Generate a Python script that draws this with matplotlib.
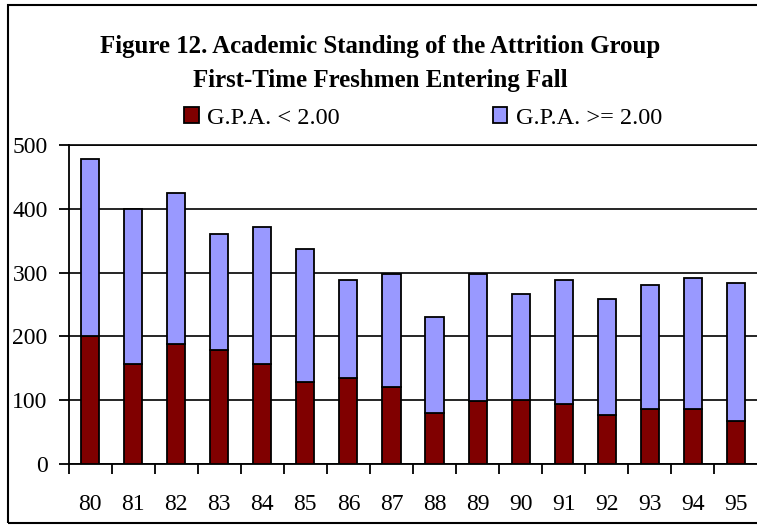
import matplotlib
matplotlib.use("Agg")
import matplotlib.pyplot as plt
from matplotlib.patches import Rectangle
from matplotlib.ticker import FixedLocator
import numpy as np

plt.rcParams['font.family'] = ['Liberation Serif', 'DejaVu Serif']

years = ["80", "81", "82", "83", "84", "85", "86", "87", "88", "89", "90", "91", "92", "93", "94", "95"]
totals = [478, 400, 425, 361, 371, 337, 289, 298, 230, 298, 267, 289, 258, 280, 292, 283]
below_2 = [200, 157, 188, 179, 157, 128, 135, 120, 79, 98, 100, 94, 76, 85, 85, 66]
above_2 = [t - b for t, b in zip(totals, below_2)]

title_1 = "Figure 12. Academic Standing of the Attrition Group"
title_2 = "First-Time Freshmen Entering Fall"
label_below = "G.P.A. < 2.00"
label_above = "G.P.A. >= 2.00"
yticks = [0, 100, 200, 300, 400, 500]

W, H = 757, 525
fig = plt.figure(figsize=(W / 100, H / 100), dpi=100)
ax = fig.add_axes([68.5 / W, 1 - 463.5 / H, 689 / W, (463.5 - 145.3) / H])

x = np.arange(len(years))
red = "#800000"
blue = "#9999FF"
b1 = ax.bar(x, below_2, width=0.42, color=red, edgecolor="black", linewidth=1.3, zorder=3, label=label_below)
b2 = ax.bar(x, above_2, width=0.42, bottom=below_2, color=blue, edgecolor="black", linewidth=1.3, zorder=3, label=label_above)

FS = 17
ax.set_xlim(-0.5, len(years) - 0.5)
ax.set_ylim(0, 500)
ax.set_yticks(yticks)
ax.set_yticklabels([str(v) for v in yticks], fontsize=FS)
ax.set_xticks(x)
ax.set_xticklabels(years, fontsize=FS)
ax.xaxis.set_minor_locator(FixedLocator(np.arange(-0.5, len(years), 1.0)))
ax.tick_params(axis='x', which='major', length=0, pad=22)
ax.tick_params(axis='x', which='minor', length=7, width=1.3, direction='out', color='black')
ax.tick_params(axis='y', which='major', length=7, width=1.3, direction='out', pad=8)

ax.yaxis.grid(True, color='black', linewidth=1.2, zorder=0)
ax.set_axisbelow(True)
ax.spines['right'].set_visible(False)
ax.spines['top'].set_linewidth(1.2)
ax.spines['left'].set_linewidth(1.3)
ax.spines['bottom'].set_linewidth(1.3)

# title: fit bold width to ~562 px
renderer = fig.canvas.get_renderer()
t1 = fig.text(380 / W, 1 - 47 / H, title_1, ha='center', va='center', fontsize=16, fontweight='bold')
wpx = t1.get_window_extent(renderer).width
tfs = 16 * 562.0 / wpx
t1.set_fontsize(tfs)
fig.text(380 / W, 1 - 81 / H, title_2, ha='center', va='center', fontsize=tfs, fontweight='bold')

leg_fs = 17.5
leg = fig.legend(handles=[b1, b2], labels=[label_below, label_above], ncol=2,
                 loc='center left', bbox_to_anchor=(184 / W, 1 - 118 / H),
                 frameon=False, fontsize=leg_fs, handlelength=0.6, handleheight=0.6,
                 handletextpad=0.35, columnspacing=6.3, borderaxespad=0, borderpad=0)

border = Rectangle((8 / W, 2 / H), 1.0, (523 - 5) / H, transform=fig.transFigure,
                   fill=False, edgecolor='black', linewidth=1.5, clip_on=False)
fig.patches.append(border)

fig.savefig("out.png", dpi=100)
